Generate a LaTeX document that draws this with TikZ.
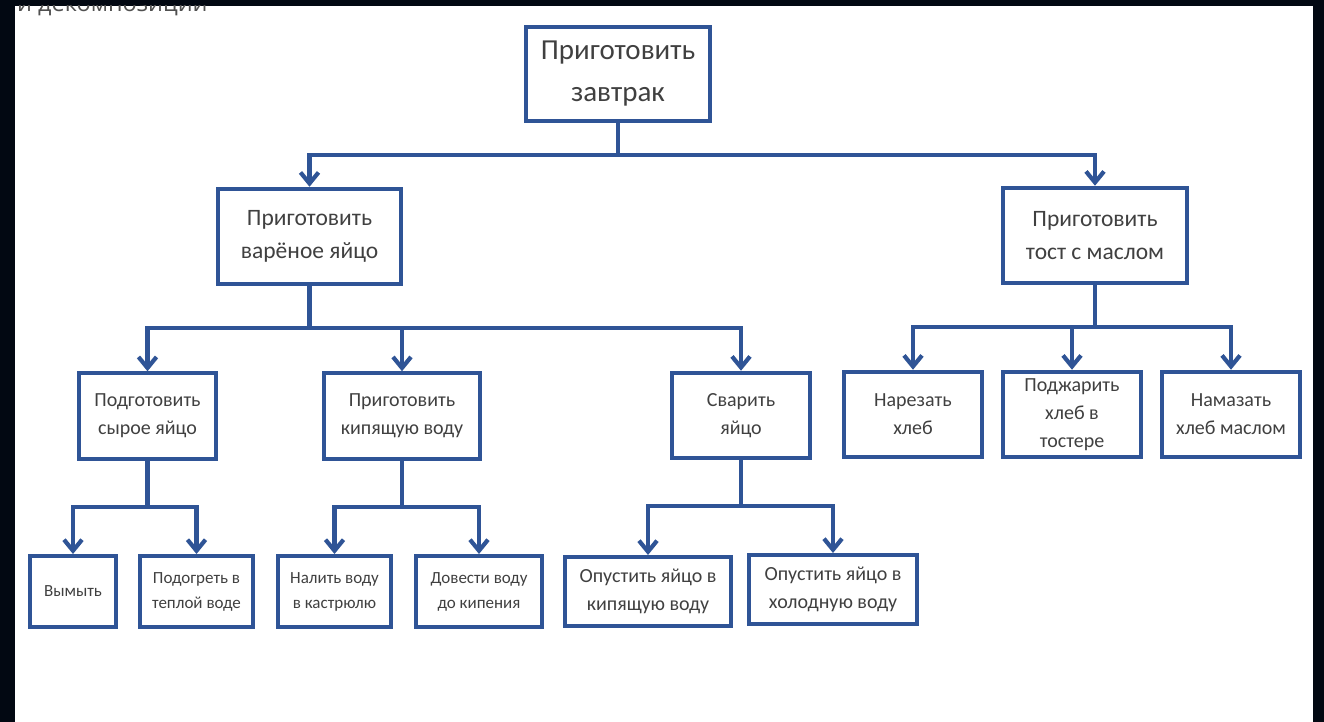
\documentclass[tikz,border=0pt]{standalone}
\usepackage{fontspec}
\setmainfont{Carlito}
\newfontfamily\headfont{Open Sans}
\usetikzlibrary{arrows.meta}
\definecolor{boxblue}{RGB}{47,84,150}
\definecolor{textgray}{RGB}{64,64,64}
\definecolor{headgray}{RGB}{80,80,80}
\definecolor{screenblack}{RGB}{2,8,18}
\tikzset{
	x=1pt, y=-1pt, % one unit is one pixel of the picture, y going down
	>={Straight Barb[length=11pt,width=18pt]}, % open arrow heads
	task/.style={draw=boxblue, line width=4.2pt, fill=white, align=center, text=textgray, inner sep=0pt}, % every box
	goal/.style={task, minimum width=183.8pt, minimum height=93.8pt, font=\fontsize{29}{42}\selectfont},
	subgoal/.style={task, minimum width=183.3pt, minimum height=95.3pt, font=\fontsize{23.5}{33}\selectfont},
	action/.style={task, minimum width=137.3pt, minimum height=85.3pt, font=\fontsize{20}{28}\selectfont},
	stepbox/.style={task, minimum width=112.8pt, minimum height=70.8pt, font=\fontsize{17}{25}\selectfont},
	branch/.style={->, draw=boxblue, line width=4.2pt, to path={-- ++(0,#1) -| (\tikztotarget)}}, % down, across, down again
}
\begin{document}
\begin{tikzpicture}
	\useasboundingbox (0,0) rectangle (1324,722);
	\fill[screenblack] (0,0) rectangle (1324,722);
	\fill[white] (15,6) rectangle (1313,722);
	\begin{scope}
		\clip (15,6) rectangle (1313,722);
		\node[anchor=base west, inner sep=0pt, text=headgray, font=\headfont\fontsize{23.5}{28}\selectfont] (heading) at (17,12) {и декомпозиции};
	\end{scope}
			\node[goal] (breakfast) at (618,74) {Приготовить\\завтрак};
			\node[subgoal] (egg) at (309.5,236.5) {Приготовить\\варёное яйцо};
			\node[subgoal] (toast) at (1095,235.5) {Приготовить\\тост с маслом};
			\node[action] (rawegg) at (147.5,416) {Подготовить\\сырое яйцо};
			\node[action, minimum width=155.8pt] (water) at (402,416) {Приготовить\\кипящую воду};
			\node[action] (boil) at (741,415.5) {Сварить\\яйцо};
			\node[action] (slice) at (913,414.5) {Нарезать\\хлеб};
			\node[action] (fry) at (1072,414.5) {Поджарить\\хлеб в\\тостере};
			\node[action] (spread) at (1231,414.5) {Намазать\\хлеб маслом};
			\node[stepbox, minimum width=85.8pt] (wash) at (73,591.5) {Вымыть};
			\node[stepbox] (warm) at (196.5,591.5) {Подогреть в\\теплой воде};
			\node[stepbox] (pour) at (334.5,591.5) {Налить воду\\в кастрюлю};
			\node[stepbox, minimum width=125.8pt] (heat) at (479,591.5) {Довести воду\\до кипения};
			\node[stepbox, minimum width=165.8pt, minimum height=68.8pt, font=\fontsize{20}{28}\selectfont] (hot) at (648,591.5) {Опустить яйцо в\\кипящую воду};
			\node[stepbox, minimum width=167.8pt, minimum height=68.8pt, font=\fontsize{20}{28}\selectfont] (cold) at (833,589.5) {Опустить яйцо в\\холодную воду};
	\draw 	(breakfast.south) edge[branch=32] (egg.north) edge[branch=32] (toast.north)
			(egg.south) edge[branch=42] (rawegg.north) edge[branch=42] (water.north) edge[branch=42] (boil.north)
			(toast.south) edge[branch=42] (slice.north) edge[branch=42] (fry.north) edge[branch=42] (spread.north)
			(rawegg.south) edge[branch=46] (wash.north) edge[branch=46] (warm.north)
			(water.south) edge[branch=46] (pour.north) edge[branch=46] (heat.north)
			(boil.south) edge[branch=46] (hot.north) edge[branch=46] (cold.north);
\end{tikzpicture}
\end{document}
